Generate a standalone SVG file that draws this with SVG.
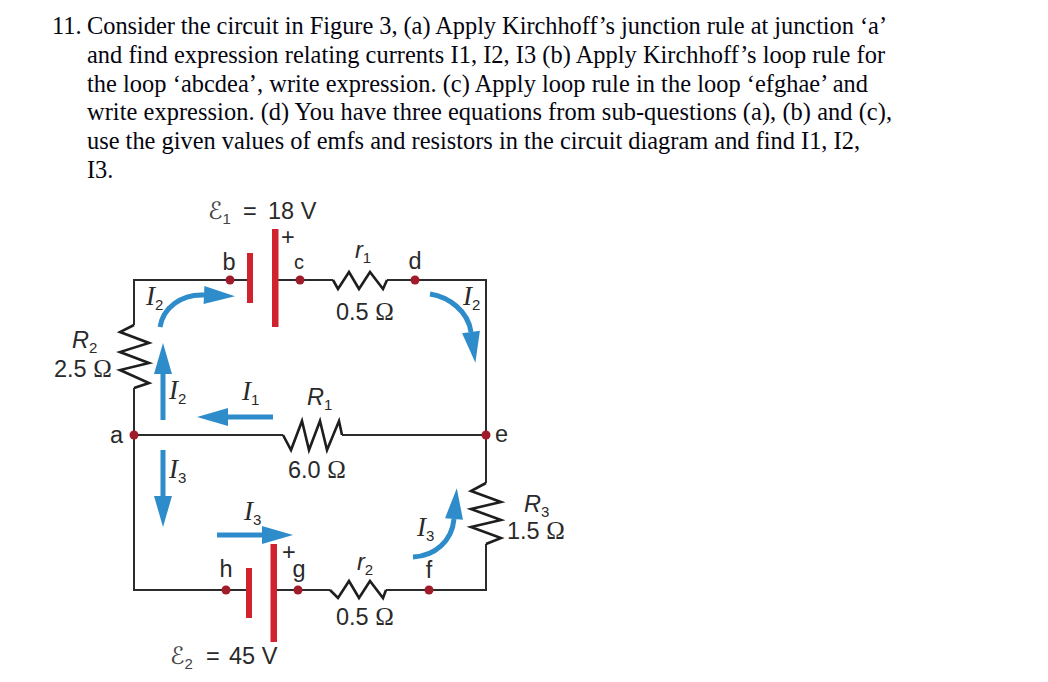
<svg xmlns="http://www.w3.org/2000/svg" width="1048" height="682" viewBox="0 0 1048 682">
<style>
.q{font-family:"Liberation Serif",serif;font-size:24.400px;fill:#050510}
.l{font-family:"Liberation Sans",Arial,sans-serif;font-size:23.500px;fill:#2a2a2a}
.ri{font-style:italic}
.i{font-family:"Liberation Serif",serif;font-style:italic;font-size:27px;fill:#2a2a2a}
.sub{font-family:"Liberation Sans",Arial,sans-serif;font-style:normal;font-size:15px}
.o{font-family:"Liberation Serif",serif;font-size:25px}
.e{font-family:"DejaVu Serif","DejaVu Sans",serif;fill:#444;font-size:24px}
.w{fill:none;stroke:#2b2b2b;stroke-width:2;stroke-linejoin:miter}
.z{fill:none;stroke:#1e1e1e;stroke-width:2.600;stroke-linejoin:miter}
.d{fill:#a01c2a}
.p{fill:#d0232f}
.a{fill:none;stroke:#2f8ccb;stroke-width:5;marker-end:url(#h)}
</style>
<defs>
<marker id="h" markerUnits="userSpaceOnUse" markerWidth="32" markerHeight="18" viewBox="0 0 31 18" refX="0" refY="9" orient="auto"><path d="M0 0L31 9L0 18Z" fill="#2f8ccb"/></marker>
<circle id="dot" r="4.500" class="d"/>
</defs>
<rect width="1048" height="682" fill="#fff"/>
<g id="question">
<text class="q" x="52" y="34">11.</text>
<text class="q" x="87" y="34" textLength="800">Consider the circuit in Figure 3, (a) Apply Kirchhoff’s junction rule at junction ‘a’</text>
<text class="q" x="87" y="63" textLength="798">and find expression relating currents I1, I2, I3 (b) Apply Kirchhoff’s loop rule for</text>
<text class="q" x="87" y="92" textLength="781">the loop ‘abcdea’, write expression. (c) Apply loop rule in the loop ‘efghae’ and</text>
<text class="q" x="87" y="120" textLength="805">write expression. (d) You have three equations from sub-questions (a), (b) and (c),</text>
<text class="q" x="87" y="149" textLength="773">use the given values of emfs and resistors in the circuit diagram and find I1, I2,</text>
<text class="q" x="87" y="178">I3.</text>
</g>
<g id="connectors">
<path class="w" d="M230 280H134V325M134 388V435M134 435V590H226M226 590H249M274 590H298H330M386 590H486V544M486 483V435M134 435H283M342 435H486M486 435V280H387M333 280H275M250 280H230"/>
</g>
<g id="R2"><path class="z" d="M134 325L120 332L149 343L120 352L149 363L120 370L149 383L134 388"/><text class="l ri" x="72" y="348">R<tspan class="sub" dy="5">2</tspan></text><text class="l" x="54" y="377">2.5 <tspan class="o">Ω</tspan></text></g>
<g id="R1"><path class="z" d="M283 435L291 450L302 421L309 450L320 421L327 450L339 421L342 435"/><text class="l ri" x="307" y="405">R<tspan class="sub" dy="5">1</tspan></text><text class="l" x="288" y="478">6.0 <tspan class="o">Ω</tspan></text></g>
<g id="R3"><path class="z" d="M486 483L471 491L501 502L471 509L501 520L471 527L501 538L486 544"/><text class="l ri" x="524" y="512">R<tspan class="sub" dy="5">3</tspan></text><text class="l" x="507" y="539">1.5 <tspan class="o">Ω</tspan></text></g>
<g id="r1"><path class="z" d="M333 280L338 289L349 272L359 289L370 272L383 289L387 280"/><text class="l ri" x="355" y="258">r<tspan class="sub" dy="5">1</tspan></text><text class="l" x="336" y="320">0.5 <tspan class="o">Ω</tspan></text></g>
<g id="r2"><path class="z" d="M330 590L338 598L349 581L359 598L370 581L383 598L386 590"/><text class="l ri" x="357" y="570">r<tspan class="sub" dy="5">2</tspan></text><text class="l" x="336" y="625">0.5 <tspan class="o">Ω</tspan></text></g>
<g id="battery1"><rect class="p" x="247" y="253" width="6" height="50"/><rect class="p" x="272" y="229" width="6.500" height="98"/><text class="e" x="208" y="219">ℰ<tspan class="sub" dy="5">1</tspan></text><text class="l" x="243" y="219">=</text><text class="l" x="268" y="219">18 V</text><text class="l" x="281" y="245">+</text></g>
<g id="battery2"><rect class="p" x="246" y="568" width="6" height="50"/><rect class="p" x="270.500" y="544" width="6.500" height="98"/><text class="e" x="170" y="664">ℰ<tspan class="sub" dy="5">2</tspan></text><text class="l" x="206" y="664">=</text><text class="l" x="229" y="664">45 V</text><text class="l" x="282" y="560">+</text></g>
<g id="node-a"><use href="#dot" x="134" y="435"/><text class="l" x="110" y="443">a</text></g>
<g id="node-b"><use href="#dot" x="230" y="280"/><text class="l" x="229" y="270" text-anchor="middle">b</text></g>
<g id="node-c"><use href="#dot" x="300" y="280"/><text class="l" x="299" y="269" text-anchor="middle" style="font-size:20px">c</text></g>
<g id="node-d"><use href="#dot" x="415" y="280"/><text class="l" x="415" y="269" text-anchor="middle">d</text></g>
<g id="node-e"><use href="#dot" x="486" y="435"/><text class="l" x="495" y="442">e</text></g>
<g id="node-f"><use href="#dot" x="429" y="590"/><text class="l" x="429" y="578" text-anchor="middle">f</text></g>
<g id="node-g"><use href="#dot" x="298" y="590"/><text class="l" x="299" y="577" text-anchor="middle">g</text></g>
<g id="node-h"><use href="#dot" x="226" y="590"/><text class="l" x="226" y="577" text-anchor="middle">h</text></g>
<g id="currents">
<path class="a" d="M163 420V374"/>
<path class="a" d="M273 417H228"/>
<path class="a" d="M160 327C163 308 181 294 204 295"/>
<path class="a" d="M430 294C449 297 468 311 471 332"/>
<path class="a" d="M163 450V496"/>
<path class="a" d="M217 535H262"/>
<path class="a" d="M413 557C435 556 452 541 454 519"/>
<text class="i" x="146" y="305">I<tspan class="sub" dy="5">2</tspan></text>
<text class="i" x="169" y="399">I<tspan class="sub" dy="5">2</tspan></text>
<text class="i" x="242" y="400">I<tspan class="sub" dy="5">1</tspan></text>
<text class="i" x="463" y="305">I<tspan class="sub" dy="5">2</tspan></text>
<text class="i" x="169" y="478">I<tspan class="sub" dy="5">3</tspan></text>
<text class="i" x="244" y="520">I<tspan class="sub" dy="5">3</tspan></text>
<text class="i" x="417" y="536">I<tspan class="sub" dy="5">3</tspan></text>
</g>
</svg>
